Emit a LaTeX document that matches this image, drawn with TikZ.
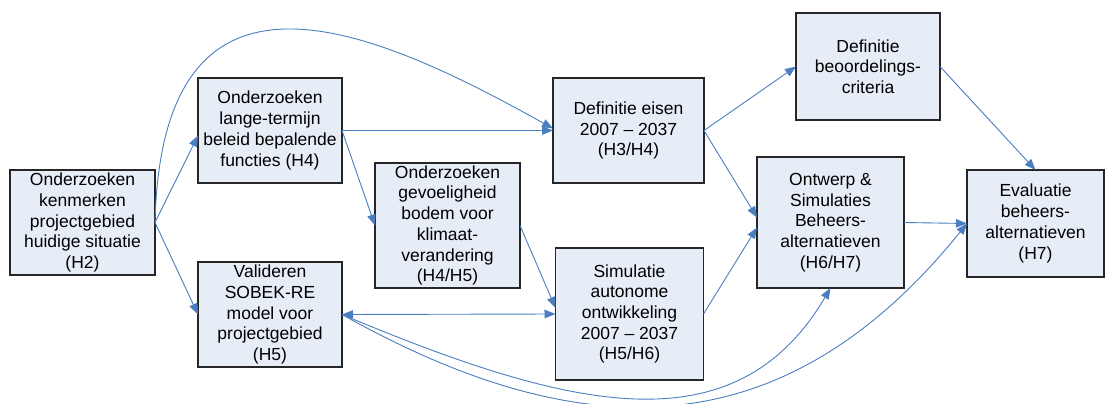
\documentclass[tikz,border=0pt]{standalone}
\usepackage{fontspec}
\setmainfont{Liberation Sans}
\usetikzlibrary{arrows.meta}
\definecolor{boxfill}{RGB}{231,237,247}
\definecolor{boxline}{RGB}{38,38,38}
\definecolor{arrowblue}{RGB}{74,126,193}
\begin{document}
\begin{tikzpicture}[x=1pt,y=-1pt,
  box/.style={draw=boxline,line width=1.1pt,fill=boxfill,align=center,
    inner sep=0pt,outer sep=0pt,
    font=\fontsize{17.5}{20.7}\selectfont},
  conn/.style={draw=arrowblue,line width=0.9pt,-{Triangle[length=11pt,width=8.5pt]}},
  dconn/.style={draw=arrowblue,line width=0.9pt,{Triangle[length=11pt,width=8.5pt]}-{Triangle[length=11pt,width=8.5pt]}}]
\useasboundingbox (0,0) rectangle (1106,404);
\node[box,minimum width=145pt,minimum height=105pt] (A) at (82.5,222.5)
  {Onderzoeken\\kenmerken\\projectgebied\\huidige situatie\\(H2)};
\node[box,minimum width=144pt,minimum height=105pt] (B) at (270,130.5)
  {Onderzoeken\\lange-termijn\\beleid bepalende\\functies (H4)};
\node[box,minimum width=145pt,minimum height=125pt] (C) at (447.5,225.5)
  {Onderzoeken\\gevoeligheid\\bodem voor\\klimaat-\\verandering\\(H4/H5)};
\node[box,minimum width=144pt,minimum height=105pt] (D) at (270,314.5)
  {Valideren\\SOBEK-RE\\model voor\\projectgebied\\(H5)};
\node[box,minimum width=151pt,minimum height=105pt] (E) at (628.5,130.5)
  {Definitie eisen\\2007 – 2037\\(H3/H4)};
\node[box,minimum width=144pt,minimum height=107pt] (F) at (868,66.5)
  {Definitie\\beoordelings-\\criteria};
\node[box,minimum width=147pt,minimum height=131pt] (G) at (830.5,222.5)
  {Ontwerp \&\\Simulaties\\Beheers-\\alternatieven\\(H6/H7)};
\node[box,minimum width=137pt,minimum height=107pt] (H) at (1035.5,223.5)
  {Evaluatie\\beheers-\\alternatieven\\(H7)};
\node[box,minimum width=148pt,minimum height=132pt] (I) at (629.5,314)
  {Simulatie\\autonome\\ontwikkeling\\2007 – 2037\\(H5/H6)};

\path[conn] (A.east) -- ([yshift=-5pt]B.west);
\path[conn] (A.east) -- (D.west);
\path[conn] (A.east) .. controls (162,-66) and (373,28) .. ([yshift=2pt]E.west);
\path[conn] (B.east) -- (E.west);
\path[conn] (B.east) -- (C.west);
\path[conn] (C.east) -- ([yshift=6pt]I.west);
\path[dconn] (D.east) -- (I.west);
\path[conn] (D.east) .. controls (570,410) and (735,450) .. (G.south);
\path[conn] (D.east) .. controls (575,445) and (780,455) .. (H.west);
\path[conn] (E.east) -- (F.west);
\path[conn] (E.east) -- ([yshift=5pt]G.west);
\path[conn] (I.east) -- ([yshift=-5pt]G.west);
\path[conn] (F.east) -- (H.north);
\path[conn] (G.east) -- (H.west);
\end{tikzpicture}
\end{document}
